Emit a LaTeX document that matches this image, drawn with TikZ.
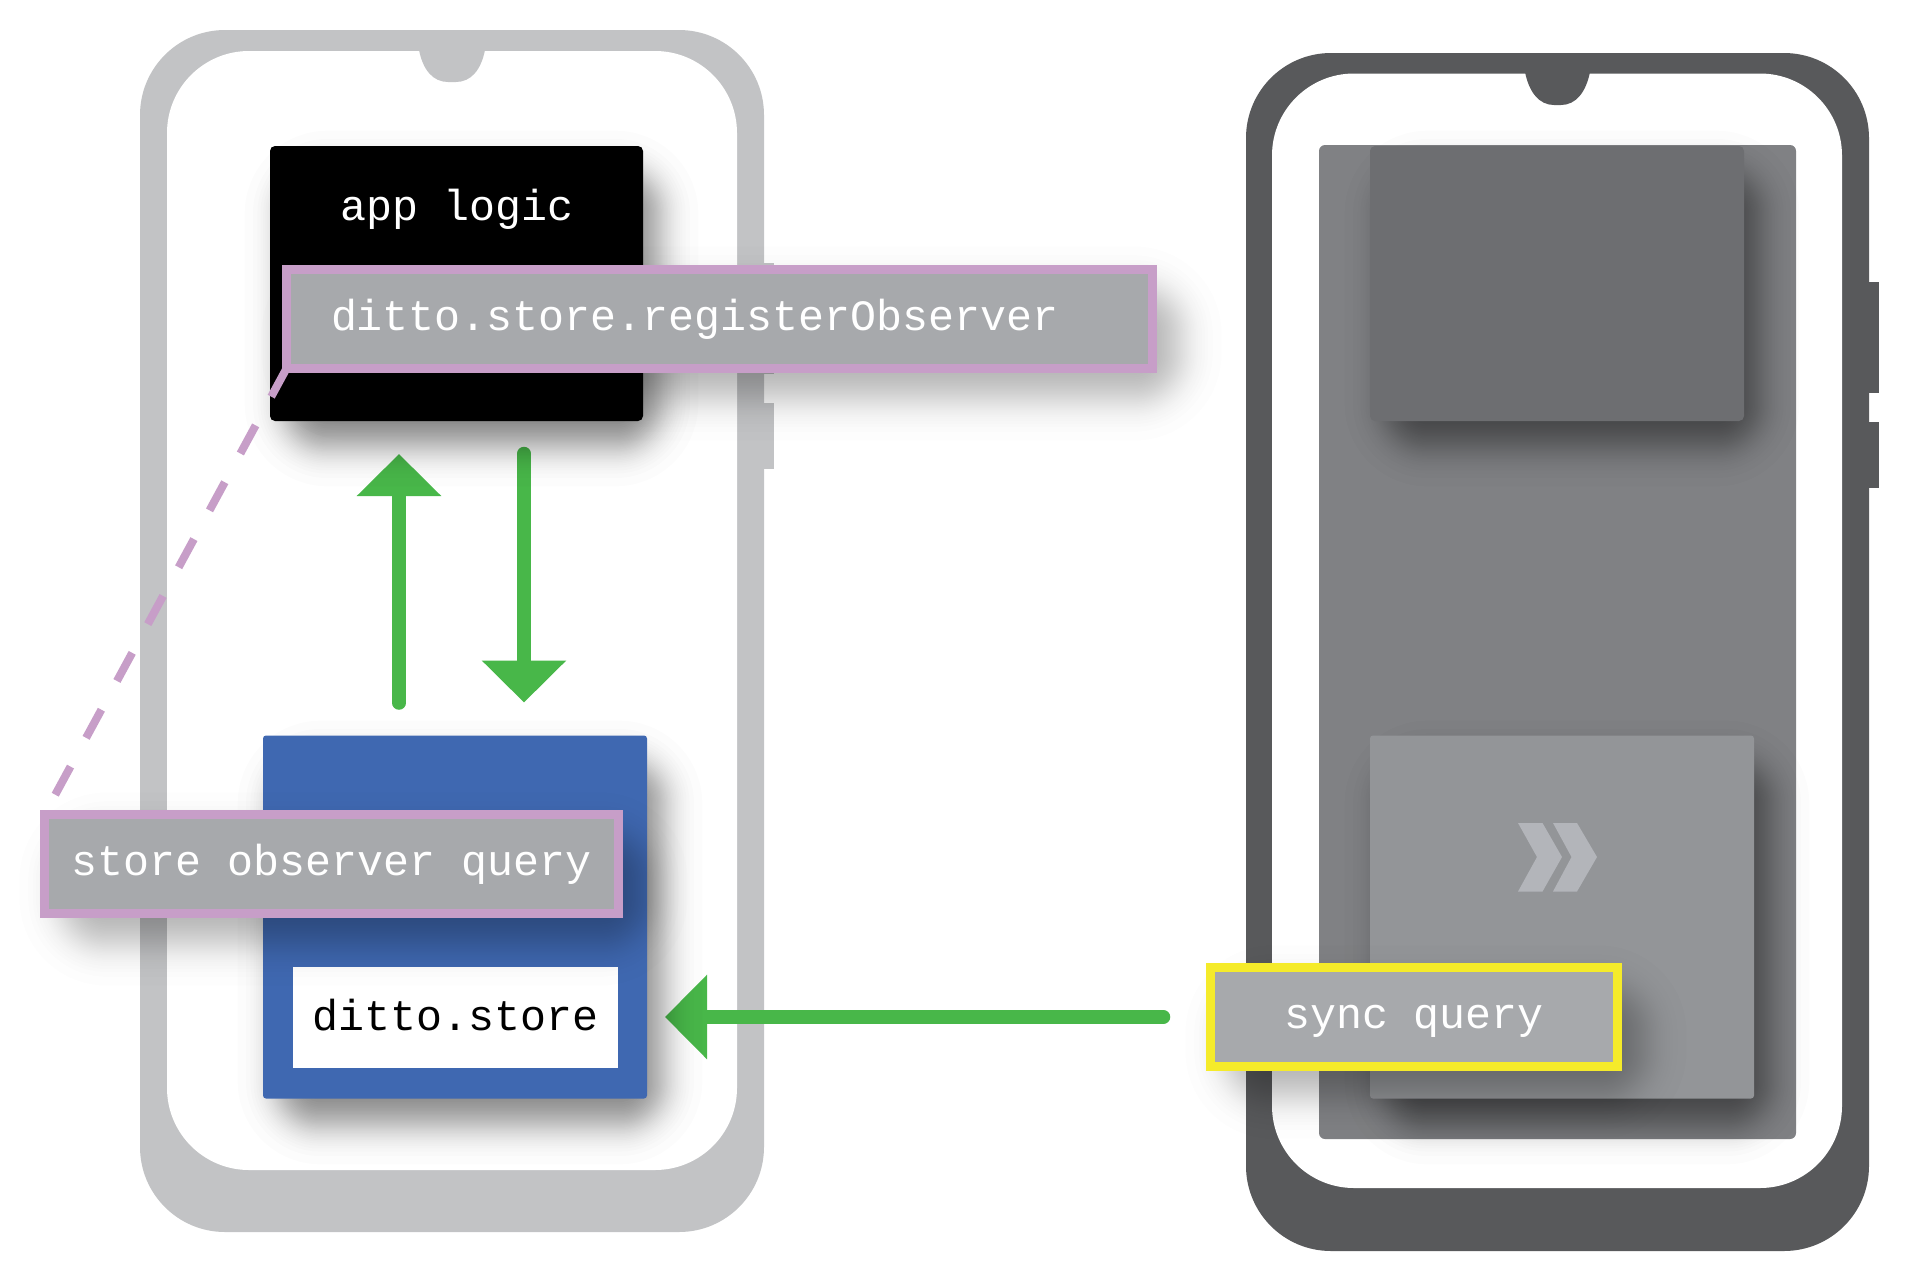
\documentclass[tikz,border=0pt]{standalone}
\usepackage{fontspec}
\setmonofont{Liberation Mono}
\usetikzlibrary{arrows.meta}
\definecolor{phonelight}{HTML}{C2C3C5}
\definecolor{phonedark}{HTML}{58595B}
\definecolor{screengrey}{HTML}{808184}
\definecolor{cardgrey}{HTML}{6D6E71}
\definecolor{storegrey}{HTML}{939598}
\definecolor{chevrongrey}{HTML}{B3B5BA}
\definecolor{storeblue}{HTML}{3F68B1}
\definecolor{flowgreen}{HTML}{48B749}
\definecolor{querypurple}{HTML}{C79EC8}
\definecolor{queryyellow}{HTML}{F5EB2A}
\definecolor{queryfill}{HTML}{A7A9AC}
\pgfdeclarelayer{phonelayer}
\pgfdeclarelayer{flowlayer}
\pgfsetlayers{phonelayer,flowlayer,main}
\tikzset{
    blockbox/.style={rectangle, inner sep=0pt, outer sep=0pt},
    phonebody/.style={blockbox, rounded corners=85pt},
    phonescreen/.style={blockbox, fill=white, rounded corners=82pt},
    codetext/.style={font=\ttfamily\fontsize{43.3}{50}\selectfont, text height=30pt, text depth=7pt},
    querybox/.style={blockbox, codetext, fill=queryfill, text=white, line width=9pt},
    flowline/.style={draw=flowgreen, line width=13.5pt, line cap=round, -{Triangle[length=42pt, width=82pt]}},
}
\newcommand{\cardn}{\node[blockbox]}
\newcommand{\queryn}{\node[querybox]}
\newcommand{\softshadow}[8]{
    \begin{scope}[transparency group, opacity=#8]
        \foreach \q [count=\k] in {2.24,1.78,1.53,1.36,1.21,1.09,0.98,0.89,0.8,0.71,0.64,0.56,0.49,0.42,0.35,0.29,0.22,0.16,0.09,0.03,-0.03,-0.09,-0.16,-0.22,-0.29,-0.35,-0.42,-0.49,-0.56,-0.64,-0.71,-0.8,-0.89,-0.98,-1.09,-1.21,-1.36,-1.53,-1.78,-2.24} {
            \pgfmathsetmacro{\grow}{#7*\q}
            \pgfmathsetmacro{\rad}{#7*(\q+2.3)+1}
            \pgfmathsetmacro{\stepalpha}{1/(41-\k)}
            \fill[black, fill opacity=\stepalpha, rounded corners=\rad pt] (#1+#5-\grow, #2+#6-\grow) rectangle (#3+#5+\grow, #4+#6+\grow);
        }
    \end{scope}
}
\newcommand{\cardshadow}[4]{\softshadow{#1}{#2}{#3}{#4}{15}{25}{18}{0.47}}
\newcommand{\labelshadow}[4]{\softshadow{#1}{#2}{#3}{#4}{22}{25}{19}{0.3}}
\begin{document}
\begin{tikzpicture}[x=1pt, y=-1pt]
    \useasboundingbox (0, 0) rectangle (1907, 1264);

    \begin{pgfonlayer}{phonelayer}
        \fill[phonelight] (764, 263) rectangle (774, 374);
        \fill[phonelight] (764, 403) rectangle (774, 469);
        \node[phonebody, fill=phonelight, minimum width=624pt, minimum height=1202pt] (leftbody) at (452, 631) {};
        \node[phonescreen, minimum width=570pt, minimum height=1119pt] (leftscreen) at (452, 610.5) {};
        \fill[phonelight] (419, 50) .. controls (423, 70) and (433, 82) .. (448, 82) -- (456, 82) .. controls (471, 82) and (481, 70) .. (485, 50) -- cycle;

        \fill[phonedark] (1869, 282) rectangle (1879, 393);
        \fill[phonedark] (1869, 422) rectangle (1879, 488);
        \node[phonebody, fill=phonedark, minimum width=623pt, minimum height=1198pt] (rightbody) at (1557.5, 652) {};
        \node[phonescreen, minimum width=570pt, minimum height=1114.5pt] (rightscreen) at (1557, 630.75) {};
        \fill[phonedark] (1525, 72) .. controls (1529, 92) and (1539, 105) .. (1554, 105) -- (1561, 105) .. controls (1576, 105) and (1586, 92) .. (1590, 72) -- cycle;
    \end{pgfonlayer}

    \node[blockbox, fill=screengrey, rounded corners=6pt, minimum width=477pt, minimum height=994pt] (rightpane) at (1557.5, 642) {};
    \cardshadow{1370}{146}{1744}{421}
    \cardn[fill=cardgrey, rounded corners=5pt, minimum width=374pt, minimum height=275pt] (rightlogic) at (1557, 283.5) {};
    \cardshadow{1370}{736}{1754}{1099}
    \cardn[fill=storegrey, rounded corners=3pt, minimum width=384pt, minimum height=363pt] (rightstore) at (1562, 917) {};
    \fill[chevrongrey] (1518, 823) -- (1542.5, 823) -- (1562, 857) -- (1542.5, 891.5) -- (1518, 891.5) -- (1537, 857) -- cycle;
    \fill[chevrongrey] (1553, 823) -- (1577, 823) -- (1597, 857) -- (1577, 891.5) -- (1553, 891.5) -- (1571.5, 857) -- cycle;

    \cardshadow{270}{146}{643}{421}
    \cardn[fill=black, rounded corners=5pt, minimum width=373pt, minimum height=275pt] (logicbox) at (456.5, 283.5) {};
    \node[codetext, text=white, inner sep=0pt] (logictext) at (457, 209) {app logic};

    \cardshadow{263}{736}{647}{1099}
    \cardn[fill=storeblue, rounded corners=3pt, minimum width=384pt, minimum height=363pt] (storebox) at (455, 917) {};
    \node[blockbox, codetext, fill=white, text=black, text height=34pt, minimum width=325pt, minimum height=101pt] (dittobox) at (455.5, 1017) {ditto.store};

    \labelshadow{282}{264}{1157}{373}
    \queryn[draw=querypurple, minimum width=866pt, minimum height=99.5pt, text width=777pt, inner xsep=43.5pt, align=left] (registerlabel) at (719.5, 318.75) {ditto.store.registerObserver};
    \labelshadow{40}{810}{623}{918}
    \queryn[draw=querypurple, minimum width=574pt, minimum height=99pt] (observerlabel) at (331.5, 864) {store observer query};
    \labelshadow{1206}{963}{1622}{1071}
    \queryn[draw=queryyellow, minimum width=407pt, minimum height=99pt] (synclabel) at (1414, 1017) {sync query};

    \begin{pgfonlayer}{flowlayer}
        \draw[flowline, shorten <=32.5pt, shorten >=33pt] ([xshift=-56pt]storebox.north) -- ([xshift=-57.5pt]logicbox.south);
        \draw[flowline, shorten <=32.5pt, shorten >=33pt] ([xshift=67.5pt]logicbox.south) -- ([xshift=69pt]storebox.north);
        \draw[flowline, shorten <=47pt, shorten >=47pt] (synclabel.west) -- (dittobox.east);
    \end{pgfonlayer}

    \draw[querypurple, line width=8pt, dash pattern=on 32pt off 32.7pt] (registerlabel.south west) -- (observerlabel.north west);
\end{tikzpicture}
\end{document}
